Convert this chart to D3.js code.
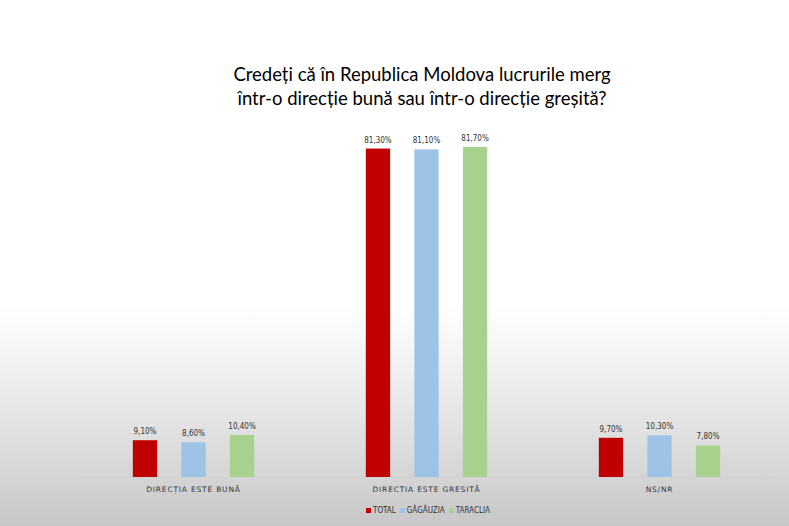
<!DOCTYPE html>
<html>
<head>
<meta charset="utf-8">
<script src="https://cdn.jsdelivr.net/npm/d3@7/dist/d3.min.js"></script>
<style>
html,body{margin:0;padding:0;}
svg{display:block;}
</style>
</head>
<body>
<script>
const categories = ["DIRECȚIA ESTE BUNĂ", "DIRECTIA ESTE GRESITĂ", "NS/NR"];
const seriesNames = ["TOTAL", "GĂGĂUZIA", "TARACLIA"];
const totalValues = [9.1, 81.3, 9.7];
const gagauziaValues = [8.6, 81.1, 10.3];
const tarakliaValues = [10.4, 81.7, 7.8];
const valueLabels = [["9,10%", "81,30%", "9,70%"], ["8,60%", "81,10%", "10,30%"], ["10,40%", "81,70%", "7,80%"]];
const colors = ["#C00000", "#9DC3E6", "#A9D18E"];
const titleLines = ["Credeți că în Republica Moldova lucrurile merg", "într-o direcție bună sau într-o direcție greșită?"];

const W = 789, H = 526;
const svg = d3.select("body").append("svg").attr("width", W).attr("height", H);

const defs = svg.append("defs");
const grad = defs.append("linearGradient").attr("id", "bg").attr("x1", 0).attr("y1", 0).attr("x2", 0).attr("y2", 1);
grad.append("stop").attr("offset", "0%").attr("stop-color", "#ffffff");
grad.append("stop").attr("offset", "58%").attr("stop-color", "#ffffff");
grad.append("stop").attr("offset", "80%").attr("stop-color", "#e4e4e4");
grad.append("stop").attr("offset", "100%").attr("stop-color", "#c7c7c7");
svg.append("rect").attr("width", W).attr("height", H).attr("fill", "url(#bg)");

const series = [totalValues, gagauziaValues, tarakliaValues];

const x0 = d3.scaleBand().domain(categories).range([77, 776]).paddingInner(0).paddingOuter(0);
const x1 = d3.scaleBand().domain(d3.range(3)).range([0, x0.bandwidth()]).paddingInner(0.5).paddingOuter(1.15);
const y = d3.scaleLinear().domain([0, 90]).range([477, 477 - 90 * 4.04]);

// title
svg.append("g").selectAll("text").data(titleLines).join("text")
  .attr("x", 422).attr("y", (d, i) => 81 + i * 24)
  .attr("text-anchor", "middle")
  .attr("font-family", "Lato, 'Open Sans', sans-serif")
  .attr("font-size", 18.5)
  .attr("fill", "#000")
  .text(d => d);

// bars
const groups = svg.append("g").selectAll("g").data(categories).join("g")
  .attr("transform", d => `translate(${x0(d)},0)`);

groups.each(function(cat, ci) {
  const g = d3.select(this);
  for (let s = 0; s < 3; s++) {
    const v = series[s][ci];
    g.append("rect")
      .attr("x", x1(s)).attr("y", y(v))
      .attr("width", x1.bandwidth()).attr("height", y(0) - y(v))
      .attr("fill", colors[s]);
    g.append("text")
      .attr("x", x1(s) + x1.bandwidth() / 2).attr("y", y(v) - 6)
      .attr("text-anchor", "middle")
      .attr("font-family", "'Liberation Sans Narrow', 'DejaVu Sans Condensed', sans-serif")
      .attr("font-size", 8)
      .attr("fill", "#333")
      .text(valueLabels[s][ci]);
  }
});

// x axis
const xAxis = d3.axisBottom(x0).tickSize(0).tickPadding(10);
const ax = svg.append("g").attr("transform", `translate(0,${y(0)})`).call(xAxis);
ax.select(".domain").attr("stroke", "#d2d2d2").attr("stroke-width", 1);
ax.selectAll("text")
  .attr("font-family", "'DejaVu Sans', sans-serif")
  .attr("font-size", 7.5)
  .attr("letter-spacing", 0.8)
  .attr("fill", "#333");

// legend
const legend = svg.append("g").attr("transform", "translate(366,513)");
let lx = 0;
seriesNames.forEach((name, i) => {
  const item = legend.append("g").attr("transform", `translate(${lx},0)`);
  item.append("rect").attr("x", 0).attr("y", -5).attr("width", 5).attr("height", 5).attr("fill", colors[i]);
  const t = item.append("text").attr("x", 7).attr("y", 0)
    .attr("font-family", "'Liberation Sans Narrow', 'DejaVu Sans Condensed', sans-serif")
    .attr("font-size", 8).attr("fill", "#333").text(name);
  lx += 7 + t.node().getComputedTextLength() + 4;
});
</script>
</body>
</html>
